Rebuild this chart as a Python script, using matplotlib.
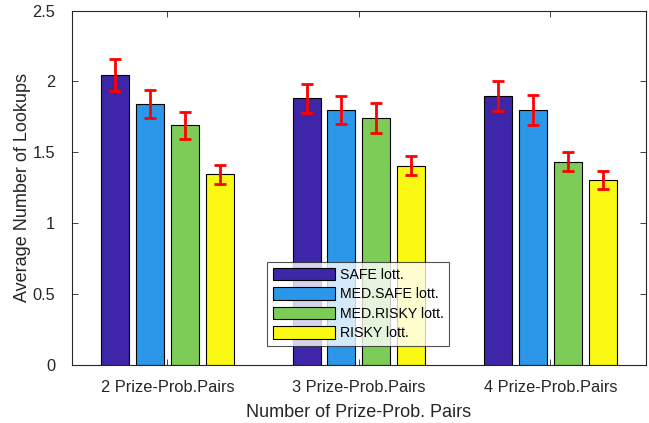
import numpy as np
import matplotlib.pyplot as plt

plt.rcParams['font.family'] = ['Liberation Sans', 'DejaVu Sans']

# Data
groups = ['2 Prize-Prob.Pairs', '3 Prize-Prob.Pairs', '4 Prize-Prob.Pairs']
series = ['SAFE lott.', 'MED.SAFE lott.', 'MED.RISKY lott.', 'RISKY lott.']
safe = [2.045, 1.88, 1.90]
med_safe = [1.84, 1.80, 1.80]
med_risky = [1.69, 1.74, 1.435]
risky = [1.345, 1.405, 1.305]
safe_err = [0.11, 0.10, 0.105]
med_safe_err = [0.10, 0.10, 0.108]
med_risky_err = [0.095, 0.105, 0.065]
risky_err = [0.065, 0.068, 0.063]

colors = ['#3e26a8', '#2c96e8', '#7ecc58', '#f9f914']

values = [safe, med_safe, med_risky, risky]
errors = [safe_err, med_safe_err, med_risky_err, risky_err]

fig = plt.figure(figsize=(6.49, 4.23), dpi=100)
ax = fig.add_axes([0.1105, 0.137, 0.885, 0.838])

x = np.arange(1, len(groups) + 1)
width = 0.146
step = 0.182
for i, (vals, errs) in enumerate(zip(values, errors)):
    pos = x + (i - 1.5) * step
    ax.bar(pos, vals, width, color=colors[i], edgecolor='black', linewidth=0.8,
           label=series[i], zorder=2)
    ax.errorbar(pos, vals, yerr=errs, fmt='none', ecolor='red', elinewidth=2,
                capsize=4.3, capthick=2, zorder=3)

ax.set_xlim(0.5, 3.5)
ax.set_ylim(0, 2.5)
ax.set_xticks(x)
ax.set_xticklabels(groups)
ax.set_yticks(np.arange(0, 2.51, 0.5))
ax.set_yticklabels(['0', '0.5', '1', '1.5', '2', '2.5'])
ax.tick_params(direction='in', top=True, right=True, labelsize=11.8, length=4,
               width=0.6, colors='#262626')
ax.tick_params(axis='x', pad=10.5)
ax.tick_params(axis='y', pad=12)
for s in ax.spines.values():
    s.set_linewidth(0.8)
    s.set_color('#262626')

ax.set_xlabel('Number of Prize-Prob. Pairs', fontsize=13, color='#262626', labelpad=7)
ax.set_ylabel('Average Number of Lookups', fontsize=13, color='#262626', labelpad=1)

leg = ax.legend(loc='lower left', bbox_to_anchor=(0.34, 0.054), fontsize=10.2,
                frameon=True, fancybox=False, edgecolor='#262626',
                handlelength=4.4, handleheight=1.0, handletextpad=0.35,
                borderpad=0.4, labelspacing=0.37, borderaxespad=0)
leg.get_frame().set_linewidth(0.8)

fig.savefig('out.png', dpi=100)
